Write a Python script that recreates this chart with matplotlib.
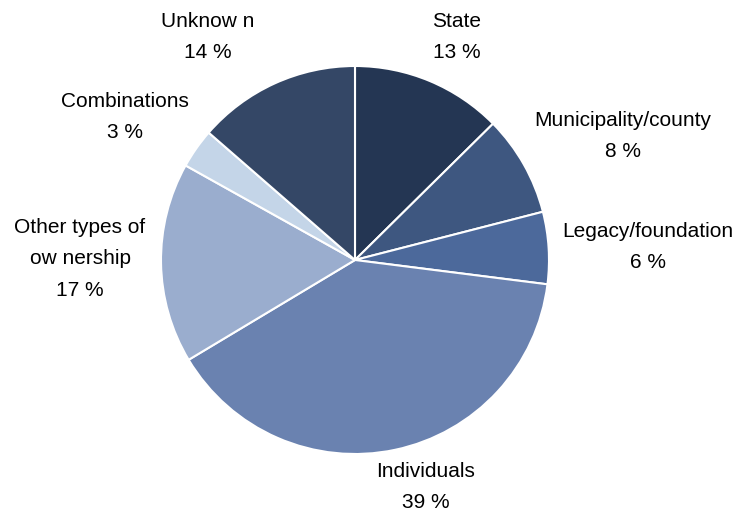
import matplotlib
matplotlib.use("Agg")
import matplotlib.pyplot as plt

plt.rcParams["font.family"] = ["Liberation Sans", "DejaVu Sans"]

CATEGORIES = ["State", "Municipality/county", "Legacy/foundation", "Individuals",
              "Other types of\now nership", "Combinations", "Unknow n"]
# unrounded shares
SHARES = [12.6, 8.4, 6.0, 39.4, 16.7, 3.3, 13.6]
# percentages as printed in the labels
LABEL_PCT = [13, 8, 6, 39, 17, 3, 14]
COLORS = ["#243653", "#3e5780", "#4c699b", "#6a82b0", "#9aadce", "#c4d5e8", "#344766"]

# label anchor points in pixel coordinates (x, y from top)
LABEL_POS = [(457, 37), (623, 136), (648, 247), (426, 487),
             (80, 259), (125, 117), (208, 37)]

W, H = 741, 508
fig = plt.figure(figsize=(W / 100, H / 100), dpi=100)
ax = fig.add_axes([0, 0, 1, 1])

ax.pie(
    SHARES,
    colors=COLORS,
    startangle=90,
    counterclock=False,
    center=(355, H - 260),
    radius=194,
    wedgeprops={"edgecolor": "white", "linewidth": 1.5},
    frame=True,
)
ax.set_xlim(0, W)
ax.set_ylim(0, H)
ax.axis("off")

for name, pct, (x, y) in zip(CATEGORIES, LABEL_PCT, LABEL_POS):
    ax.text(x, H - y, f"{name}\n{pct} %", ha="center", va="center",
            fontsize=15, linespacing=1.85, color="#000000")

fig.savefig("out.png", dpi=100)
